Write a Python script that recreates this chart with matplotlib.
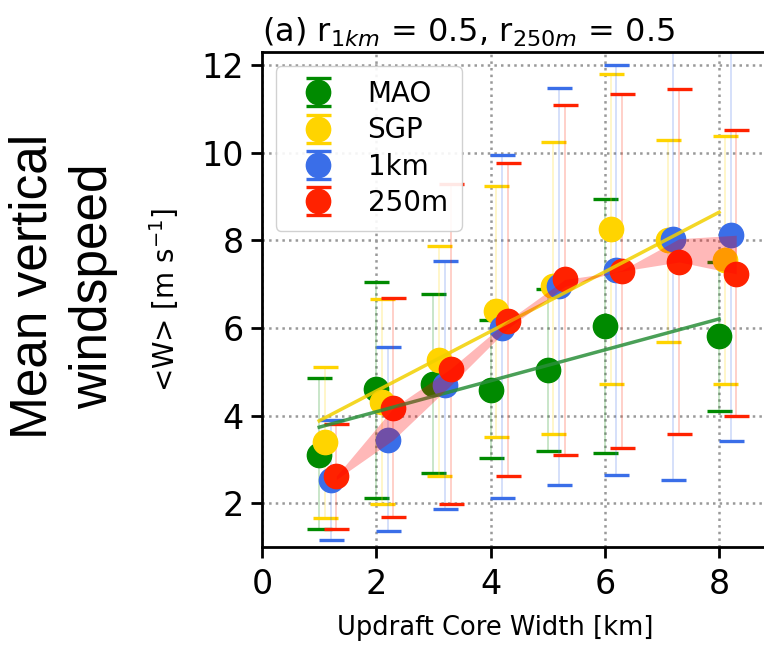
import numpy as np
import matplotlib.pyplot as plt

# updraft core width bins [km]
x_base = np.array([1, 2, 3, 4, 5, 6, 7, 8])
x_mao = np.array([1, 2, 3, 4, 5, 6, 8])

# MAO observations
mao_mean = np.array([3.10, 4.60, 4.73, 4.58, 5.05, 6.05, 5.81])
mao_hi = np.array([4.85, 7.05, 6.77, 6.18, 6.90, 8.94, 7.50])
mao_lo = np.array([1.40, 2.11, 2.69, 3.03, 3.19, 3.15, 4.11])

# SGP observations
sgp_mean = np.array([3.39, 4.31, 5.26, 6.38, 6.95, 8.27, 8.00, 7.55])
sgp_hi = np.array([5.11, 6.66, 7.87, 9.24, 10.25, 11.81, 10.29, 10.39])
sgp_lo = np.array([1.66, 1.97, 2.62, 3.51, 3.58, 4.73, 5.68, 4.73])

# 1km simulation
km1_mean = np.array([2.54, 3.45, 4.69, 5.99, 6.95, 7.32, 8.04, 8.12])
km1_hi = np.array([3.89, 5.57, 7.53, 9.95, 11.49, 12.00, 12.80, 12.80])
km1_lo = np.array([1.16, 1.36, 1.86, 2.12, 2.41, 2.64, 2.54, 3.41])

# 250m simulation
m250_mean = np.array([2.62, 4.18, 5.07, 6.17, 7.11, 7.30, 7.51, 7.24])
m250_hi = np.array([3.82, 6.69, 9.30, 9.78, 11.10, 11.35, 11.45, 10.52])
m250_lo = np.array([1.40, 1.69, 1.99, 2.62, 3.10, 3.26, 3.57, 3.99])

c_mao = '#008a00'
c_sgp = '#ffd400'
c_1km = '#3a6ee8'
c_250 = '#ff2200'

fig = plt.figure(figsize=(7.64, 6.45), dpi=100)
ax = fig.add_axes([0.343, 0.152, 0.673, 0.767])
ax.set_axisbelow(True)
ax.grid(True, linestyle=':', color='#999999', linewidth=1.8)


def draw(x, mean, lo, hi, color, label):
    eb = ax.errorbar(x, mean, yerr=[mean - lo, hi - mean], fmt='o', color=color,
                     ms=17.5, capsize=9, capthick=2.4, elinewidth=1.2, label=label)
    eb[2][0].set_alpha(0.25)
    return eb


draw(x_mao, mao_mean, mao_lo, mao_hi, c_mao, 'MAO')
draw(x_base + 0.1, sgp_mean, sgp_lo, sgp_hi, c_sgp, 'SGP')
draw(x_base + 0.2, km1_mean, km1_lo, km1_hi, c_1km, '1km')
draw(x_base + 0.3, m250_mean, m250_lo, m250_hi, c_250, '250m')

# linear fits of the observations
xx = np.array([1, 8])
p_mao = np.polyfit(x_mao, mao_mean, 1)
p_sgp = np.polyfit(x_base, sgp_mean, 1)
ax.plot(xx, np.polyval(p_mao, xx), color='#2a8f3a', lw=2.5, alpha=0.85, zorder=3)
ax.plot(xx, np.polyval(p_sgp, xx), color='#f2d000', lw=2.5, alpha=0.85, zorder=3)

# spread between the two simulations
ax.fill_between(x_base + 0.3, km1_mean, m250_mean, color='red', alpha=0.28, lw=0, zorder=4)

ax.set_xlim(0, 9)
ax.set_ylim(1, 12.3)
ax.set_xticks([0, 2, 4, 6, 8])
ax.set_yticks([2, 4, 6, 8, 10, 12])
for s in ax.spines.values():
    s.set_linewidth(2)
ax.tick_params(axis='both', length=8, width=2, labelsize=24)
ax.tick_params(axis='x', pad=7)
ax.tick_params(axis='y', pad=5)

ax.set_xlabel('Updraft Core Width [km]', fontsize=18.5)
ax.xaxis.set_label_coords(0.453, -0.138)
ax.set_ylabel('<W> [m s$^{-1}$]', fontsize=20, labelpad=15)
ax.set_title('(a) r$_{1km}$ = 0.5, r$_{250m}$ = 0.5', loc='left', fontsize=23, pad=8)

leg = ax.legend(loc='upper left', fontsize=20, borderpad=0.5, handletextpad=0.8,
                labelspacing=0.3, framealpha=0.9)
leg.set_zorder(10)

fig.text(0.083, 0.556, 'Mean vertical\nwindspeed', rotation=90, ha='center', va='center',
         fontsize=37, family='Liberation Sans', multialignment='center', linespacing=1.3)

fig.savefig('out.png', dpi=100)
